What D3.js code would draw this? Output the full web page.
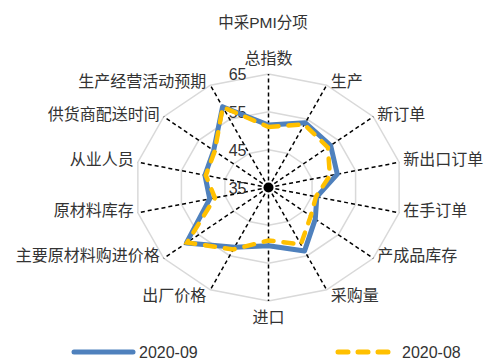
<!DOCTYPE html>
<html>
<head>
<meta charset="utf-8">
<script src="https://cdn.jsdelivr.net/npm/d3@7"></script>
<style>
  body { margin: 0; background: #fff; }
  text { font-family: "Liberation Sans", "Noto Sans CJK SC", sans-serif; fill: #333; }
</style>
</head>
<body>
<div id="chart"></div>
<script>
// categories (clockwise from top)
const categories = ["总指数", "生产", "新订单", "新出口订单", "在手订单", "产成品库存", "采购量",
                    "进口", "出厂价格", "主要原材料购进价格", "原材料库存", "从业人员", "供货商配送时间", "生产经营活动预期"];
const sep2020 = [51.5, 54.0, 52.8, 50.8, 46.1, 48.4, 53.6, 50.4, 52.5, 58.5, 48.5, 49.6, 50.7, 58.7];
const aug2020 = [51.0, 53.5, 52.0, 49.1, 45.9, 47.1, 51.7, 49.0, 53.2, 58.3, 47.3, 49.4, 50.4, 58.6];
const tickValues = [35, 45, 55, 65];
const gridValues = [45, 55, 65];
const seriesNames = ["2020-09", "2020-08"];

const width = 487, height = 360;
const cx = 268.5, cy = 187.5;

const svg = d3.select("#chart").append("svg")
    .attr("width", width)
    .attr("height", height);

// the chart is stretched horizontally, so use separate radial scales
const rX = d3.scaleLinear().domain([35, 65]).range([0, 134]);
const rY = d3.scaleLinear().domain([35, 65]).range([0, 113.5]);
const angle = d3.scaleLinear().domain([0, categories.length]).range([0, 2 * Math.PI]);

function px(i, v) { return cx + rX(v) * Math.sin(angle(i)); }
function py(i, v) { return cy - rY(v) * Math.cos(angle(i)); }

// title
svg.append("text")
    .attr("x", 263).attr("y", 28)
    .attr("text-anchor", "middle")
    .style("font-size", "15.5px")
    .text("中采PMI分项");

// grid polygons
const grid = svg.append("g");
gridValues.forEach(function(v) {
    const pts = categories.map(function(c, i) { return [px(i, v), py(i, v)]; });
    grid.append("path")
        .attr("d", d3.line().curve(d3.curveLinearClosed)(pts))
        .attr("fill", "none")
        .attr("stroke", "#d9d9d9")
        .attr("stroke-width", 1.5);
});

// spokes
const spokes = svg.append("g");
categories.forEach(function(c, i) {
    spokes.append("line")
        .attr("x1", cx).attr("y1", cy)
        .attr("x2", px(i, 65)).attr("y2", py(i, 65))
        .attr("stroke", "#000")
        .attr("stroke-width", 1.5)
        .attr("stroke-dasharray", "4,3");
});
svg.append("circle")
    .attr("cx", cx).attr("cy", cy).attr("r", 5)
    .attr("fill", "#000");

// value tick labels
svg.append("g").selectAll("text").data(tickValues)
    .enter().append("text")
    .attr("x", cx - 22)
    .attr("y", function(d) { return cy - rY(d) + 6; })
    .attr("text-anchor", "end")
    .style("font-size", "16px")
    .text(function(d) { return d; });

// category labels
svg.append("g").selectAll("text").data(categories)
    .enter().append("text")
    .attr("x", function(d, i) {
        const s = Math.sin(angle(i));
        if (Math.abs(s) < 0.01) return px(i, 65);
        return px(i, 65) + (s > 0 ? 4 : -4);
    })
    .attr("y", function(d, i) {
        const c = Math.cos(angle(i));
        const s = Math.sin(angle(i));
        if (Math.abs(s) < 0.01) return c > 0 ? py(i, 65) - 10 : py(i, 65) + 22;
        if (c > 0.8) return py(i, 65) + 2;
        if (c < -0.8) return py(i, 65) + 11;
        return py(i, 65) + 3;
    })
    .attr("text-anchor", function(d, i) {
        const s = Math.sin(angle(i));
        if (Math.abs(s) < 0.01) return "middle";
        return s > 0 ? "start" : "end";
    })
    .style("font-size", "16px")
    .text(function(d) { return d; });

// series
const line = d3.line().curve(d3.curveLinearClosed);
svg.append("path")
    .attr("d", line(sep2020.map(function(v, i) { return [px(i, v), py(i, v)]; })))
    .attr("fill", "none")
    .attr("stroke", "#4f81bd")
    .attr("stroke-width", 5)
    .attr("stroke-linejoin", "round");
svg.append("path")
    .attr("d", line(aug2020.map(function(v, i) { return [px(i, v), py(i, v)]; })))
    .attr("fill", "none")
    .attr("stroke", "#ffc000")
    .attr("stroke-width", 4.5)
    .attr("stroke-dasharray", "10,10")
    .attr("stroke-linecap", "round");

// legend
const legend = svg.append("g");
legend.append("line")
    .attr("x1", 74).attr("x2", 133).attr("y1", 352).attr("y2", 352)
    .attr("stroke", "#4f81bd").attr("stroke-width", 5)
    .attr("stroke-linecap", "round");
legend.append("text")
    .attr("x", 139).attr("y", 357.5)
    .style("font-size", "16px")
    .text(seriesNames[0]);
legend.append("line")
    .attr("x1", 338).attr("x2", 390).attr("y1", 352).attr("y2", 352)
    .attr("stroke", "#ffc000").attr("stroke-width", 5)
    .attr("stroke-dasharray", "10,10")
    .attr("stroke-linecap", "round");
legend.append("text")
    .attr("x", 402).attr("y", 357.5)
    .style("font-size", "16px")
    .text(seriesNames[1]);
</script>
</body>
</html>
